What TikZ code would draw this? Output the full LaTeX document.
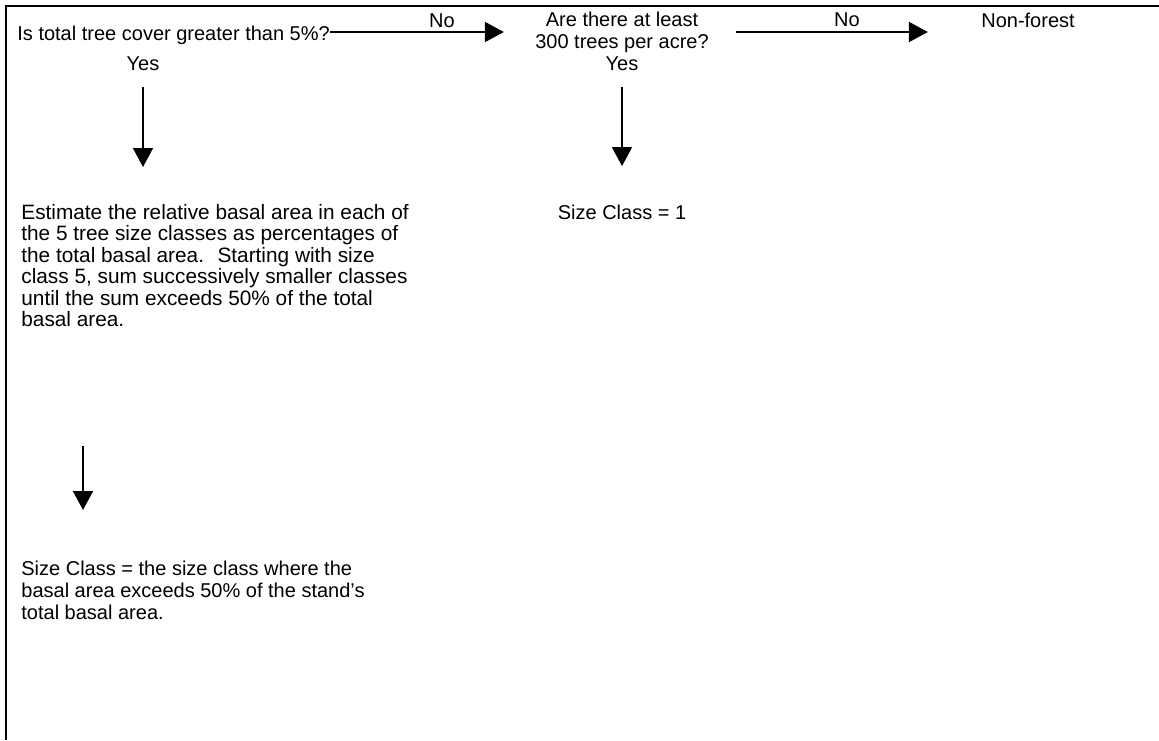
\documentclass[tikz,border=0pt]{standalone}
\usepackage{fontspec}
\setmainfont{Liberation Sans}
\usetikzlibrary{arrows.meta, positioning, calc}
\definecolor{inkline}{HTML}{000000}
\tikzset{
  txt/.style={inner sep=0pt, font=\fontsize{10}{11}\selectfont, text=inkline},
  question/.style={txt, align=center},
  answer/.style={txt, anchor=base},
  para/.style={txt, align=left, anchor=north west},
  flow/.style={-{Triangle[length=9.5pt, width=10pt]}, line width=0.8pt, draw=inkline},
  frameline/.style={line width=1.2pt, draw=inkline},
}

\begin{document}
\begin{tikzpicture}[x=0.5pt, y=-0.5pt]
\useasboundingbox (0,0) rectangle (1159,740);

% Frame of the table cell
\draw[frameline] (1159,6) -- (6,6) -- (6,740);

% Questions along the top row
\coordinate (rowA) at (0,32);
\node[txt, anchor=base west] (q1) at (17,40) {Is total tree cover greater than 5\%?};
\node[question, anchor=north] (q2) at (622,12) {Are there at least\\300 trees per acre?};
\node[answer] (nonforest) at (1028,27) {Non-forest};

% Answer labels
\node[answer] (no1)  at (442,27) {No};
\node[answer] (no2)  at (847,26) {No};
\node[answer] (yes1) at (143,70) {Yes};
\node[answer] (yes2) at (622,70) {Yes};

% Results
\node[para, font=\fontsize{10.4}{10.75}\selectfont] (est) at (21,204)
  {Estimate the relative basal area in each of\\
  the 5 tree size classes as percentages of\\
  the total basal area.~ Starting with size\\
  class 5, sum successively smaller classes\\
  until the sum exceeds 50\% of the total\\
  basal area.};
\node[answer] (size1) at (622,219) {Size Class = 1};
\node[para] (sizebig) at (21,561) {Size Class = the size class where the\\
  basal area exceeds 50\% of the stand’s\\
  total basal area.};

% Flow
\draw[flow] (q1.east |- rowA) -- (q2.west |- rowA) [shorten >=15.5pt];
\draw[flow, shorten <=13.5pt, shorten >=26.5pt] (q2.east |- rowA) -- (nonforest.west |- rowA);
\draw[flow, shorten <=8pt, shorten >=18.5pt] (yes1.south) -- (yes1.south |- est.north);
\draw[flow, shorten <=8pt, shorten >=19pt] (yes2.south) -- (size1.north);
\draw[flow, shorten <=59pt, shorten >=25.5pt] ([xshift=31pt]est.south west) -- ([xshift=31pt]est.south west |- sizebig.north);

\end{tikzpicture}
\end{document}
